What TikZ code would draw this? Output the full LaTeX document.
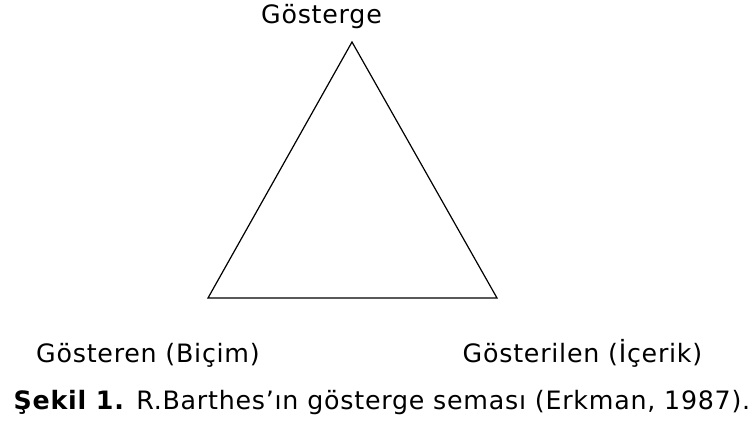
\documentclass[tikz,border=0pt]{standalone}
\usepackage{fontspec}
\setmainfont{DejaVu Sans}[LetterSpace=3]
\begin{document}
\begin{tikzpicture}[x=1pt,y=1pt,
  lbl/.style={anchor=base,inner sep=0pt,font=\fontsize{25.3}{29}\selectfont},
  edge/.style={draw=black,line width=1.2pt,line join=miter}]
\useasboundingbox (0,0) rectangle (755,428);
\coordinate (top) at (352,386);
\coordinate (bl) at (208,130);
\coordinate (br) at (497,130);
\draw[edge] (top) -- (bl) -- (br) -- cycle;
\node[lbl] (t1) at (321.5,404) {Gösterge};
\node[lbl] (t2) at (148,65) {Gösteren (Biçim)};
\node[lbl] (t3) at (582.5,65) {Gösterilen (İçerik)};
\node[lbl] (cap) at (382,18) {\textbf{Şekil 1.} R.Barthes’ın gösterge seması (Erkman, 1987).};
\end{tikzpicture}
\end{document}
